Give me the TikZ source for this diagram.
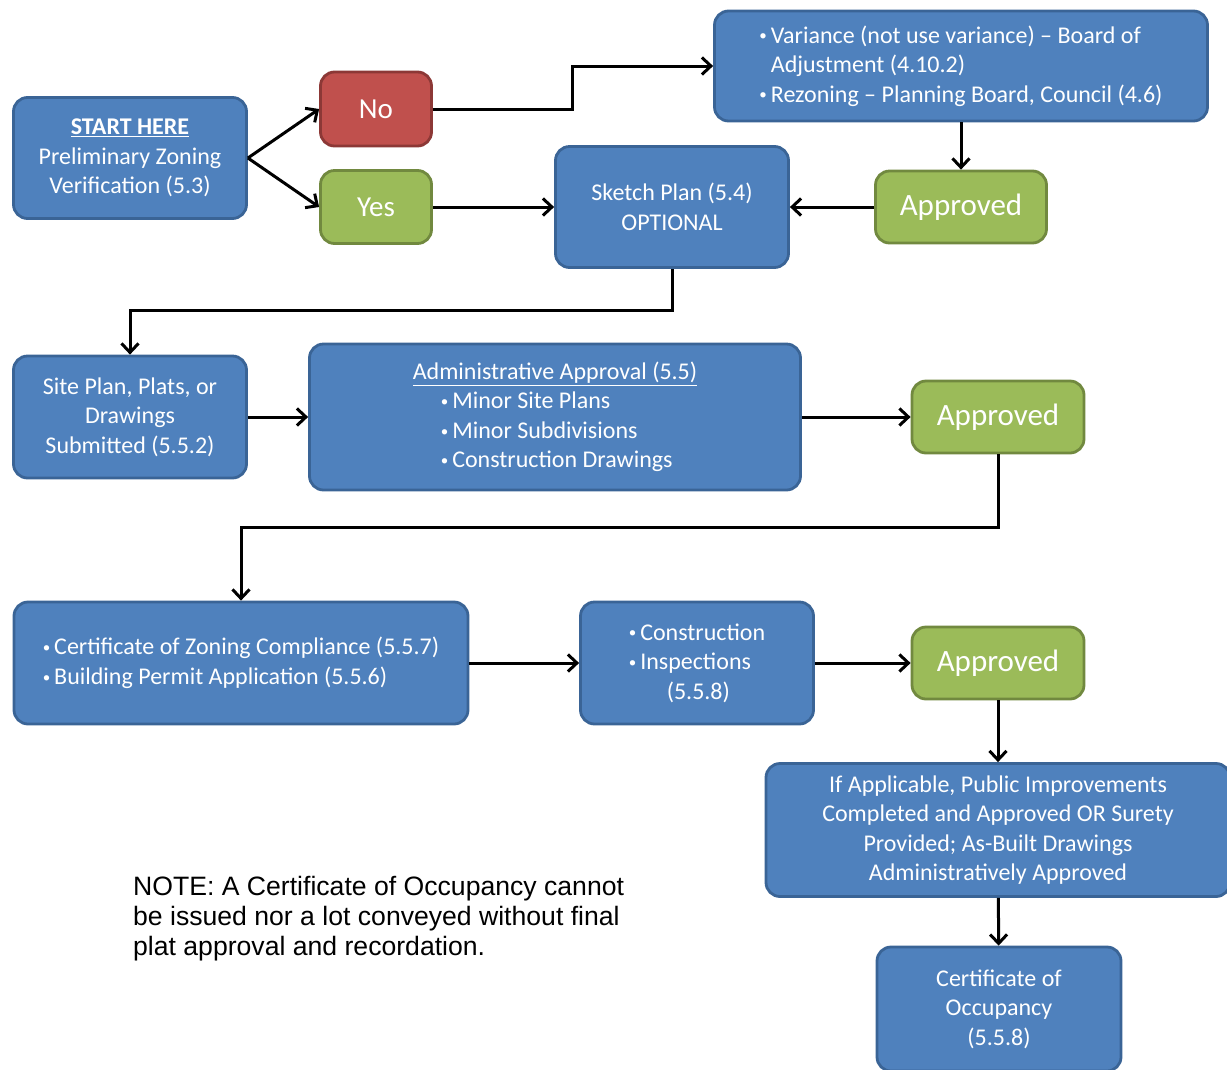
\documentclass[tikz,border=0pt]{standalone}
\usepackage{fontspec}
\setmainfont{Carlito}
\newfontfamily\notefont{Liberation Sans}
\usetikzlibrary{arrows.meta}
\definecolor{boxfill}{HTML}{4F81BD}
\definecolor{boxedge}{HTML}{3A6496}
\definecolor{nofill}{HTML}{C0504D}
\definecolor{noedge}{HTML}{8C3836}
\definecolor{okfill}{HTML}{9BBB59}
\definecolor{okedge}{HTML}{71893F}
\def\bul{\raisebox{0.2ex}{\fontsize{15}{15}\selectfont\textbullet}\hspace{4pt}}
\tikzset{
	box/.style={draw=boxedge, fill=boxfill, line width=2.8pt, rounded corners=14pt, text=white, align=center, inner sep=0pt, font=\fontsize{24}{29.5}\selectfont},
	nobox/.style={box, draw=noedge, fill=nofill, font=\fontsize{29}{34}\selectfont},
	okbox/.style={box, draw=okedge, fill=okfill, font=\fontsize{31}{36}\selectfont},
	flow/.style={line width=3pt, -{Straight Barb[length=9pt,width=17pt]}},
}

\begin{document}
\begin{tikzpicture}[x=1pt, y=-1pt]
		%%%%% START %%%%%
		\useasboundingbox (0, 0) rectangle (1227, 1069);
		
		\node[box, minimum width=233, minimum height=121] (start) at (130, 158) {\underline{\textbf{START HERE}}\\Preliminary Zoning\\Verification (5.3)};
		\node[nobox, minimum width=111, minimum height=74] (no) at (376, 109) {No};
		\node[box, draw=okedge, fill=okfill, font=\fontsize{29}{34}\selectfont, minimum width=111, minimum height=73] (yes) at (376, 207) {Yes};
		\node[box, align=left, minimum width=493, minimum height=110] (vari) at (961, 66) {\bul Variance (not use variance) -- Board of\\\hphantom{\bul}Adjustment (4.10.2)\\\bul Rezoning -- Planning Board, Council (4.6)};
		\node[box, minimum width=233, minimum height=121] (sketch) at (672, 207) {Sketch Plan (5.4)\\OPTIONAL};
		\node[okbox, minimum width=171, minimum height=72] (ok1) at (961, 207) {Approved};
		
		\node[box, minimum width=233, minimum height=122] (site) at (130, 417) {Site Plan, Plats, or\\Drawings\\Submitted (5.5.2)};
		\node[box, align=left, minimum width=491, minimum height=146] (admin) at (555, 417) {\underline{Administrative Approval (5.5)}\\\hspace*{28pt}\bul Minor Site Plans\\\hspace*{28pt}\bul Minor Subdivisions\\\hspace*{28pt}\bul Construction Drawings};
		\node[okbox, minimum width=172, minimum height=72] (ok2) at (998, 417) {Approved};
		
		\node[box, align=left, minimum width=454, minimum height=122] (cert) at (241, 663) {\bul Certificate of Zoning Compliance (5.5.7)\\\bul Building Permit Application (5.5.6)};
		\node[box, align=left, minimum width=233, minimum height=122] (constr) at (697, 663) {\bul Construction\\\bul Inspections\\\hspace*{38pt}(5.5.8)};
		\node[okbox, minimum width=172, minimum height=72] (ok3) at (998, 663) {Approved};
		
		\node[box, minimum width=464, minimum height=133] (public) at (998, 830) {If Applicable, Public Improvements\\Completed and Approved OR Surety\\Provided; As-Built Drawings\\Administratively Approved};
		\node[box, minimum width=244, minimum height=124] (occ) at (999, 1009) {Certificate of\\Occupancy\\(5.5.8)};
		
		\node[anchor=north west, align=left, inner sep=0pt, font=\notefont\fontsize{26.6}{30}\selectfont] (note) at (133, 876) {NOTE: A Certificate of Occupancy cannot\\be issued nor a lot conveyed without final\\plat approval and recordation.};
		
		\draw[flow] (start.east) -- (no.west);
		\draw[flow] (start.east) -- (yes.west);
		\draw[flow] (no.east) -- ++(140, 0) |- (vari.west);
		\draw[flow] (yes) -- (sketch);
		\draw[flow] (vari) -- (ok1);
		\draw[flow] (ok1) -- (sketch);
		\draw[flow] (sketch.south) -- ++(0, 42) -| (site.north);
		\draw[flow] (site) -- (admin);
		\draw[flow] (admin) -- (ok2);
		\draw[flow] (ok2.south) -- ++(0, 73) -| (cert.north);
		\draw[flow] (cert) -- (constr);
		\draw[flow] (constr) -- (ok3);
		\draw[flow] (ok3) -- (public);
		\draw[flow] (public) -- (occ);
		
		%%%%% END %%%%%
	\end{tikzpicture}
\end{document}
